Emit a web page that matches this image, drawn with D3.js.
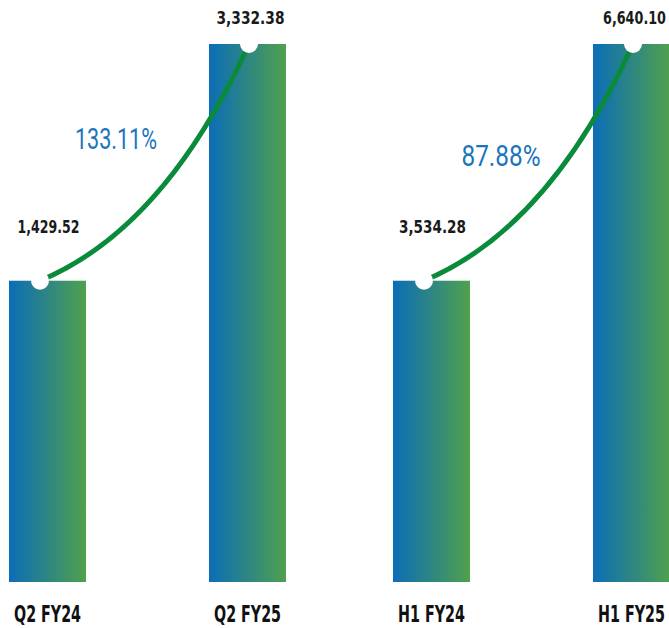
<!DOCTYPE html>
<html>
<head>
<meta charset="utf-8">
<script src="https://cdn.jsdelivr.net/npm/d3@7"></script>
<style>
  html, body { margin: 0; padding: 0; background: #ffffff; }
  svg { display: block; }
</style>
</head>
<body>
<div id="chart"></div>
<script>
// data
var categories = [["Q2 FY24", "Q2 FY25"], ["H1 FY24", "H1 FY25"]];
var values = [[1429.52, 3332.38], [3534.28, 6640.10]];
var growthLabels = ["133.11%", "87.88%"];

var width = 669, height = 628;
var baseY = 582, topY = 44;
var barW = 77;
var smallShare = 0.56; // short bar drawn as share of the tall one (stylised, not to zero)

var svg = d3.select("#chart").append("svg")
  .attr("width", width).attr("height", height);

var defs = svg.append("defs");
var grad = defs.append("linearGradient").attr("id", "barGrad")
  .attr("x1", "0%").attr("x2", "100%").attr("y1", "0%").attr("y2", "0%");
grad.append("stop").attr("offset", "0%").attr("stop-color", "#0b6db7");
grad.append("stop").attr("offset", "100%").attr("stop-color", "#50a04d");

// panel layout
var panels = [
  {x0: 9, x1: 209, labelX: 116, labelY: 149, labelW: 82},
  {x0: 393, x1: 593, labelX: 501, labelY: 166, labelW: 79}
];

var font = "'DejaVu Sans Condensed', 'DejaVu Sans', sans-serif";

panels.forEach(function(p, i){
  var cats = categories[i], vals = values[i];
  var g = svg.append("g");

  var x = d3.scalePoint().domain(cats).range([p.x0, p.x1]);
  // floor chosen so the short bar keeps its stylised proportion
  var vmax = d3.max(vals), vmin = d3.min(vals);
  var floor = (vmin - smallShare * vmax) / (1 - smallShare);
  var y = d3.scaleLinear().domain([floor, vmax]).range([baseY, topY]);

  g.selectAll("rect.bar").data(vals).enter().append("rect")
    .attr("class", "bar")
    .attr("x", function(d, j){ return x(cats[j]); })
    .attr("y", function(d){ return y(d); })
    .attr("width", barW)
    .attr("height", function(d){ return baseY - y(d); })
    .attr("fill", "url(#barGrad)");

  // connector points
  var pts = vals.map(function(d, j){
    var off = j === 0 ? 31 : 40;
    return [x(cats[j]) + off, y(d)];
  });
  var c = [pts[0][0] + 125, pts[0][1] - 52];
  var path = d3.path();
  path.moveTo(pts[0][0], pts[0][1]);
  path.quadraticCurveTo(c[0], c[1], pts[1][0], pts[1][1]);
  g.append("path").attr("d", path.toString())
    .attr("fill", "none").attr("stroke", "#0a8b3b").attr("stroke-width", 5);

  g.selectAll("circle.dot").data(pts).enter().append("circle")
    .attr("class", "dot")
    .attr("cx", function(d){ return d[0]; })
    .attr("cy", function(d){ return d[1]; })
    .attr("r", 9).attr("fill", "#ffffff");

  // value labels
  var valW = [[62, 68], [67, 63]];
  g.selectAll("text.val").data(vals).enter().append("text")
    .attr("class", "val")
    .attr("x", function(d, j){ return x(cats[j]) + barW / 2 + (j === 0 ? 1 : 3); })
    .attr("y", function(d, j){ return y(d) - (j === 0 ? 48 : 20); })
    .attr("text-anchor", "middle")
    .attr("font-family", font).attr("font-size", 18).attr("font-weight", "bold")
    .attr("font-stretch", "condensed")
    .attr("textLength", function(d, j){ return valW[i][j]; })
    .attr("lengthAdjust", "spacingAndGlyphs")
    .attr("fill", "#1a1a1a")
    .text(function(d){ return d3.format(",.2f")(d); });

  // category labels
  g.selectAll("text.cat").data(cats).enter().append("text")
    .attr("class", "cat")
    .attr("x", function(d){ return x(d) + barW / 2; })
    .attr("y", 622)
    .attr("text-anchor", "middle")
    .attr("font-family", font).attr("font-size", 23).attr("font-weight", "bold")
    .attr("font-stretch", "condensed")
    .attr("textLength", 67)
    .attr("lengthAdjust", "spacingAndGlyphs")
    .attr("fill", "#111111")
    .text(function(d){ return d; });

  // growth label
  g.append("text")
    .attr("x", p.labelX)
    .attr("y", p.labelY)
    .attr("text-anchor", "middle")
    .attr("font-family", "'Roboto', 'Noto Sans', sans-serif").attr("font-size", 29)
    .attr("textLength", p.labelW)
    .attr("lengthAdjust", "spacingAndGlyphs")
    .attr("fill", "#1b75bb")
    .text(growthLabels[i]);
});
</script>
</body>
</html>
